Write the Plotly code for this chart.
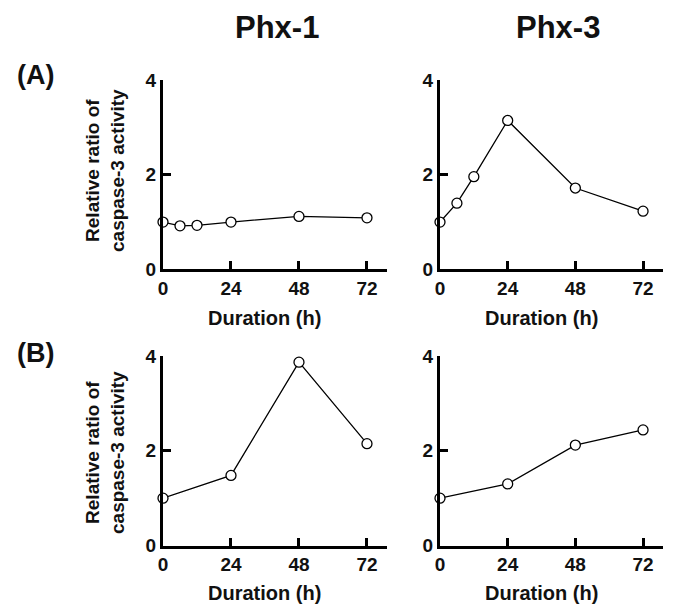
import plotly.graph_objects as go

# ---- data ----
time_a = [0, 6, 12, 24, 48, 72]
ratio_a_phx1 = [1.0, 0.92, 0.93, 1.0, 1.12, 1.09]
ratio_a_phx3 = [1.0, 1.40, 1.96, 3.15, 1.72, 1.23]
time_b = [0, 24, 48, 72]
ratio_b_phx1 = [1.0, 1.48, 3.87, 2.15]
ratio_b_phx3 = [1.0, 1.30, 2.12, 2.44]

x_ticks = [0, 24, 48, 72]
y_ticks = [0, 2, 4]
col_titles = ["Phx-1", "Phx-3"]
row_labels = ["(A)", "(B)"]
x_title = "Duration (h)"
y_title = "Relative ratio of<br>caspase-3 activity"

W, H = 675, 609
FONT = "Liberation Sans, Arial, sans-serif"

fig = go.Figure()

panels = [
    (time_a, ratio_a_phx1, "x", "y"),
    (time_a, ratio_a_phx3, "x2", "y2"),
    (time_b, ratio_b_phx1, "x3", "y3"),
    (time_b, ratio_b_phx3, "x4", "y4"),
]
for xs, ys, xa, ya in panels:
    fig.add_trace(go.Scatter(
        x=xs, y=ys, xaxis=xa, yaxis=ya, mode="lines+markers",
        line=dict(color="black", width=1.3),
        marker=dict(symbol="circle", size=10, color="white",
                    line=dict(color="black", width=1.3)),
        cliponaxis=False, showlegend=False,
    ))

def px_x(p):
    return p / W

def px_y(p):
    return 1 - p / H

x_dom_left = [px_x(163), px_x(163 + 79 * 2.833)]
x_dom_right = [px_x(440), px_x(440 + 79 * 2.82)]
y_dom_top = [px_y(269.3), px_y(80.3)]
y_dom_bot = [px_y(545.5), px_y(356)]

xcommon = dict(range=[0, 79], tickvals=x_ticks, ticks="inside", ticklen=8, tickwidth=2.5,
               tickcolor="black", showline=True, linecolor="black", linewidth=3,
               showgrid=False, zeroline=False, automargin=False,
               tickfont=dict(family=FONT, size=19, color="#111", weight="bold"))
ycommon = dict(range=[0, 4], tickvals=y_ticks, ticks="inside", ticklen=8, tickwidth=2.5,
               tickcolor="black", showline=True, linecolor="black", linewidth=3,
               showgrid=False, zeroline=False, automargin=False,
               tickfont=dict(family=FONT, size=19, color="#111", weight="bold"))

fig.update_layout(
    width=W, height=H,
    margin=dict(l=0, r=0, t=0, b=0, pad=0, autoexpand=False),
    paper_bgcolor="white", plot_bgcolor="white",
    font=dict(family=FONT, color="#111"),
    showlegend=False,
    xaxis=dict(domain=x_dom_left, anchor="y", **xcommon),
    yaxis=dict(domain=y_dom_top, anchor="x", **ycommon),
    xaxis2=dict(domain=x_dom_right, anchor="y2", **xcommon),
    yaxis2=dict(domain=y_dom_top, anchor="x2", **ycommon),
    xaxis3=dict(domain=x_dom_left, anchor="y3", **xcommon),
    yaxis3=dict(domain=y_dom_bot, anchor="x3", **ycommon),
    xaxis4=dict(domain=x_dom_right, anchor="y4", **xcommon),
    yaxis4=dict(domain=y_dom_bot, anchor="x4", **ycommon),
)

ann = []
# x titles, centered under the 0-72 range
for xr, yc in [("x", 318), ("x2", 318), ("x3", 593), ("x4", 593)]:
    ann.append(dict(text=x_title, x=36, xref=xr, y=px_y(yc), yref="paper",
                    showarrow=False, xanchor="center", yanchor="middle",
                    font=dict(family=FONT, size=20, color="#111", weight="bold")))
# y titles
for yc in [171, 453]:
    ann.append(dict(text=y_title, x=px_x(105), xref="paper", y=px_y(yc), yref="paper",
                    textangle=-90, showarrow=False, xanchor="center", yanchor="middle",
                    font=dict(family=FONT, size=19, color="#111", weight="bold")))
# column titles
for t, xc in zip(col_titles, [277, 558]):
    ann.append(dict(text=t, x=px_x(xc), xref="paper", y=px_y(28), yref="paper",
                    showarrow=False, xanchor="center", yanchor="middle",
                    font=dict(family=FONT, size=31, color="#111", weight="bold")))
# row labels
for t, yc in zip(row_labels, [75, 353]):
    ann.append(dict(text=t, x=px_x(35), xref="paper", y=px_y(yc), yref="paper",
                    showarrow=False, xanchor="center", yanchor="middle",
                    font=dict(family=FONT, size=27, color="#111", weight="bold")))
fig.update_layout(annotations=ann)

fig.write_html("out.html", config={"displayModeBar": False},
               post_script="document.body.style.margin='0';")
